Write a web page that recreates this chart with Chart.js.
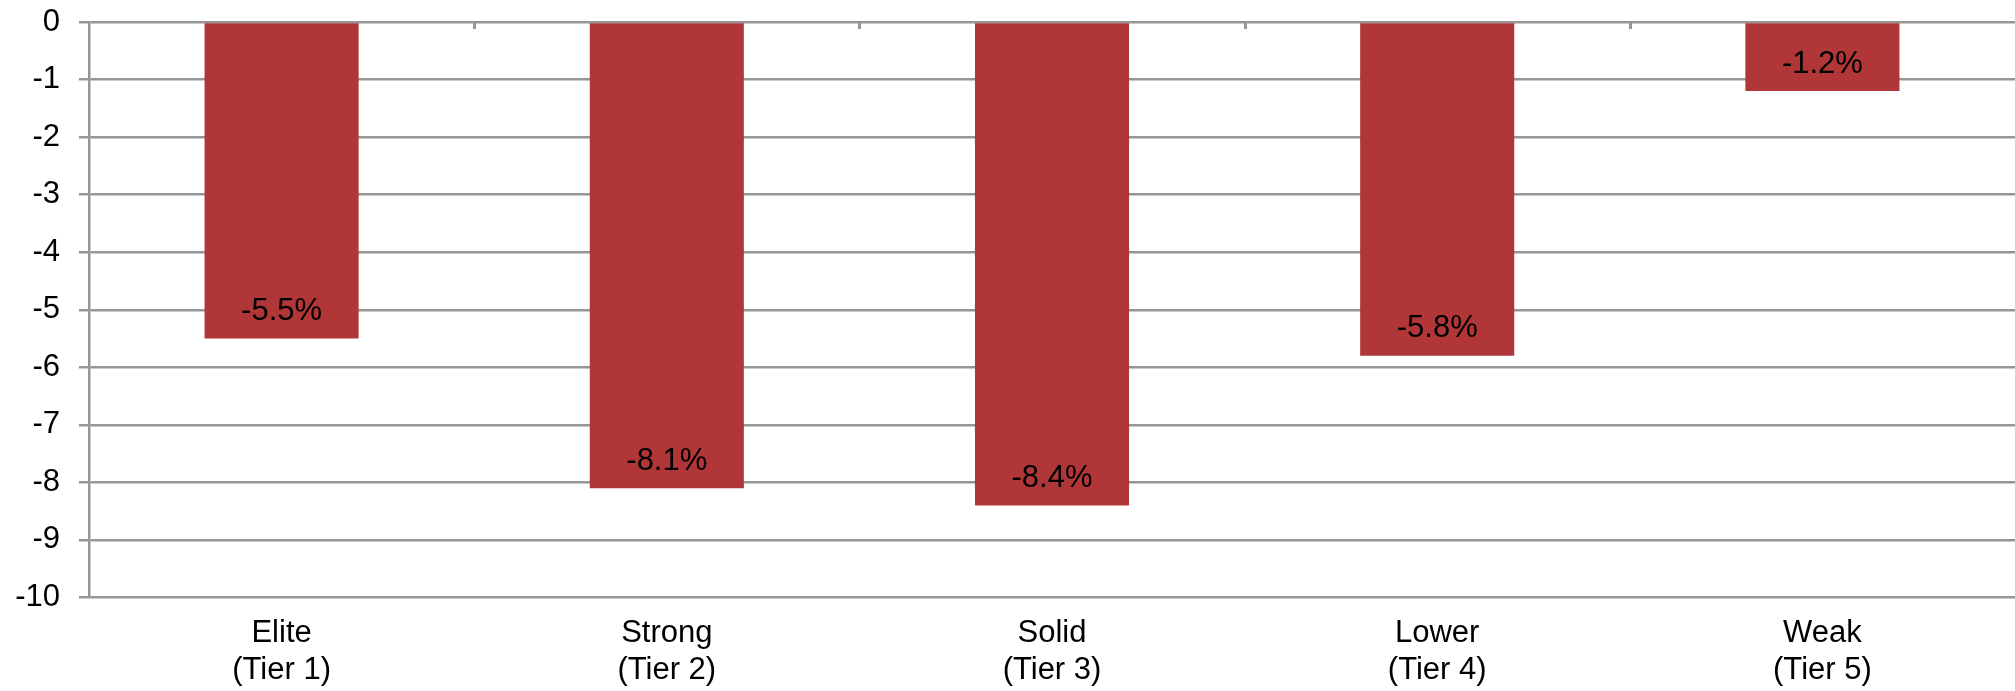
<!DOCTYPE html>
<html>
<head>
<meta charset="utf-8">
<style>
  html, body { margin: 0; padding: 0; background: #fff; }
  #wrap { width: 2015px; height: 691px; }
</style>
<script src="https://cdn.jsdelivr.net/npm/chart.js@4.4.0/dist/chart.umd.min.js"></script>
</head>
<body>
<div id="wrap"><canvas id="c" width="2015" height="691"></canvas></div>
<script>
  // ─── DATA ─────────────────────────────────────────────
  const categories = [
    ['Elite', '(Tier 1)'],
    ['Strong', '(Tier 2)'],
    ['Solid', '(Tier 3)'],
    ['Lower', '(Tier 4)'],
    ['Weak', '(Tier 5)'],
  ];
  const changes = [-5.5, -8.1, -8.4, -5.8, -1.2];
  const yTicks = [0, -1, -2, -3, -4, -5, -6, -7, -8, -9, -10];

  const FONT = "'Liberation Sans', Arial, sans-serif";
  const GRID = '#969696';
  const BAR = '#b03637';

  // labels drawn just inside the bar end
  const valueLabels = {
    id: 'valueLabels',
    afterDatasetsDraw(chart) {
      const ctx = chart.ctx;
      const meta = chart.getDatasetMeta(0);
      ctx.save();
      ctx.font = '31px ' + FONT;
      ctx.fillStyle = '#000';
      ctx.textAlign = 'center';
      ctx.textBaseline = 'middle';
      meta.data.forEach((bar, i) => {
        ctx.fillText(changes[i].toFixed(1) + '%', bar.x, bar.y - 27);
      });
      ctx.restore();
    }
  };

  // small category-boundary tick marks hanging from the zero line (category axis crosses at 0)
  const zeroAxisTicks = {
    id: 'zeroAxisTicks',
    beforeDatasetsDraw(chart) {
      const ctx = chart.ctx;
      const x = chart.scales.x;
      const y0 = chart.scales.y.getPixelForValue(0);
      ctx.save();
      ctx.strokeStyle = GRID;
      ctx.lineWidth = 3;
      ctx.beginPath();
      for (let i = 1; i < categories.length; i++) {
        const bx = Math.round((x.getPixelForTick(i - 1) + x.getPixelForTick(i)) / 2) + 0.5;
        ctx.moveTo(bx, y0);
        ctx.lineTo(bx, y0 + 7);
      }
      ctx.stroke();
      ctx.restore();
    }
  };

  new Chart(document.getElementById('c').getContext('2d'), {
    type: 'bar',
    data: {
      labels: categories,
      datasets: [{
        data: changes,
        backgroundColor: BAR,
        borderWidth: 0,
        barPercentage: 0.4,
        categoryPercentage: 1.0,
      }]
    },
    options: {
      responsive: false,
      animation: false,
      layout: { padding: { top: 22, right: 0, left: 0, bottom: 0 } },
      plugins: { legend: { display: false }, tooltip: { enabled: false } },
      scales: {
        x: {
          position: 'bottom',
          grid: { display: false, drawTicks: false, tickLength: 0 },
          border: { display: false },
          ticks: {
            color: '#000',
            padding: 17,
            maxRotation: 0,
            autoSkip: false,
            font: { family: FONT, size: 31, lineHeight: 1.2 },
          },
          afterFit(s) { s.height = 93.5; },
        },
        y: {
          min: -10,
          max: 0,
          afterBuildTicks(s) { s.ticks = yTicks.map(v => ({ value: v })); },
          grid: { color: GRID, lineWidth: 2.5, tickLength: 10 },
          border: { display: true, color: GRID, width: 2.5 },
          ticks: {
            color: '#000',
            padding: 19,
            font: { family: FONT, size: 31 },
          },
          afterFit(s) { s.width = 89; s.paddingTop = 0; s.paddingBottom = 0; },
        },
      },
    },
    plugins: [valueLabels, zeroAxisTicks],
  });
</script>
</body>
</html>
